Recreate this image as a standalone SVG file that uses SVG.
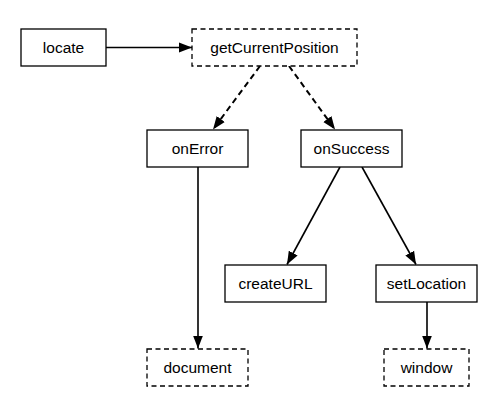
<svg xmlns="http://www.w3.org/2000/svg" width="503" height="409" viewBox="0 0 503 409">
<style>
.box{fill:#fff;stroke:#000;stroke-width:1.3}
.dash{stroke-dasharray:5,3.5}
.lbl{font-family:"Liberation Sans",Arial,sans-serif;font-size:15.5px;fill:#000;text-anchor:middle}
.edge{fill:none;stroke:#000;stroke-width:1.6;marker-end:url(#arr)}
.edge.d{stroke-dasharray:6,4;stroke-width:2}
</style>
<defs>
<marker id="arr" markerUnits="userSpaceOnUse" markerWidth="14" markerHeight="11" refX="13" refY="5" orient="auto" viewBox="0 0 14 10">
<path d="M0,0 L13,5 L0,10 z" fill="#000"/>
</marker>
</defs>
<rect width="503" height="409" fill="#fff"/>
<g id="connectors">
<path class="edge" d="M106,47.5 L192,47.5"/>
<path class="edge d" d="M260,66 L213,129.5"/>
<path class="edge d" d="M289,66 L335,129.5"/>
<path class="edge" d="M198,167 L198,348.5"/>
<path class="edge" d="M340,167 L287,264.5"/>
<path class="edge" d="M362,167 L416,264.5"/>
<path class="edge" d="M427,302 L427,348.5"/>
</g>
<g id="locate"><rect class="box" x="21" y="29" width="85" height="37"/><text class="lbl" x="63.5" y="53">locate</text></g>
<g id="getCurrentPosition"><rect class="box dash" x="192" y="29" width="165" height="37"/><text class="lbl" x="274.5" y="53">getCurrentPosition</text></g>
<g id="onError"><rect class="box" x="147" y="130" width="101" height="37"/><text class="lbl" x="197.5" y="154">onError</text></g>
<g id="onSuccess"><rect class="box" x="301" y="130" width="101" height="37"/><text class="lbl" x="351.5" y="154">onSuccess</text></g>
<g id="createURL"><rect class="box" x="225" y="265" width="101" height="37"/><text class="lbl" x="275.5" y="289">createURL</text></g>
<g id="setLocation"><rect class="box" x="376" y="265" width="101" height="37"/><text class="lbl" x="426.5" y="289">setLocation</text></g>
<g id="document"><rect class="box dash" x="147" y="349" width="101" height="37"/><text class="lbl" x="197.5" y="373">document</text></g>
<g id="window"><rect class="box dash" x="384" y="349" width="85" height="37"/><text class="lbl" x="426.5" y="373">window</text></g>
</svg>
